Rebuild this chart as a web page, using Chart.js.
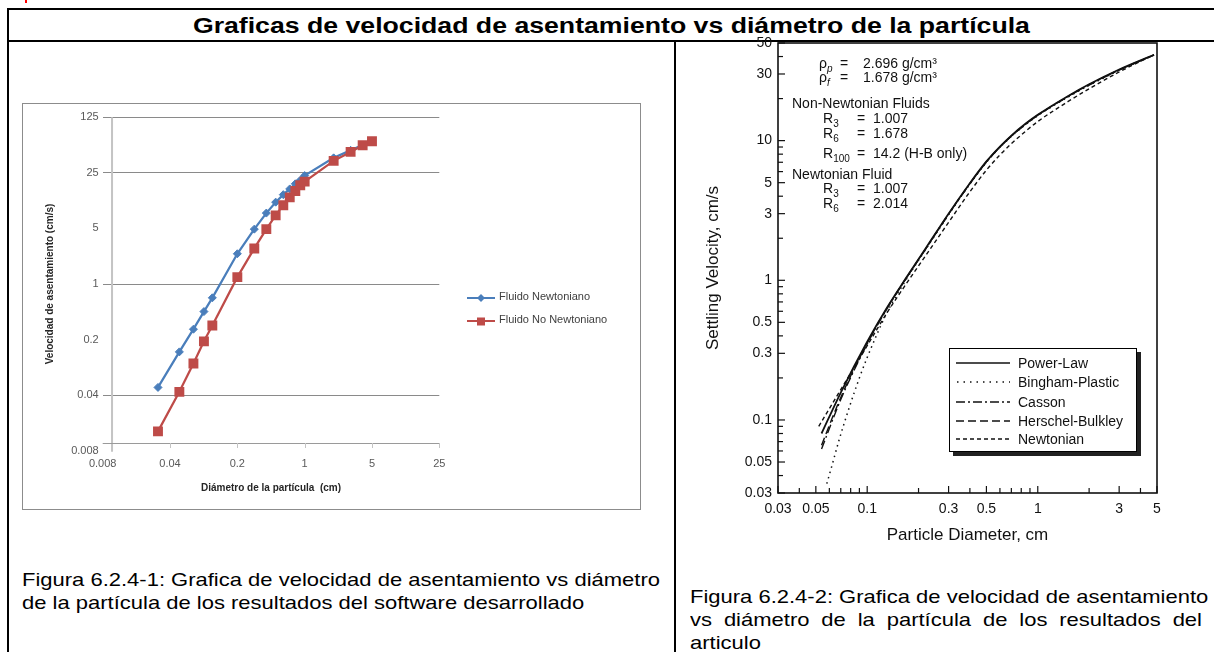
<!DOCTYPE html>
<html lang="es">
<head>
<meta charset="utf-8">
<title>Graficas de velocidad de asentamiento vs diámetro de la partícula</title>
<script src="https://cdn.jsdelivr.net/npm/chart.js@4.4.1/dist/chart.umd.min.js"></script>
<style>
  html, body { margin:0; padding:0; background:#fff; }
  body { position:relative; width:1214px; height:652px; overflow:hidden; font-family:"Liberation Sans", Arial, Helvetica, sans-serif; color:#000; }
  .rule { position:absolute; background:#000; }
  #titulo { position:absolute; left:9px; top:11px; width:1205px; height:30px; line-height:30px; text-align:center; font-weight:bold; font-size:22px; }
  #titulo span { display:inline-block; white-space:nowrap; transform-origin:50% 50%; }
  .cap { position:absolute; font-size:19px; line-height:23px; white-space:nowrap; transform-origin:0 50%; }
  .just { text-align:justify; text-align-last:justify; }
  #boxL { position:absolute; left:22px; top:103px; width:617px; height:405px; border:1px solid #8c8c8c; }
  #cL { position:absolute; left:0; top:0; }
  #cR { position:absolute; left:680px; top:25px; }
  .legL { position:absolute; font-size:11px; line-height:14px; color:#404040; white-space:nowrap; }
  .ann { position:absolute; font-size:14px; line-height:16px; white-space:nowrap; color:#111; }
  .ann sub { font-size:10px; vertical-align:-4px; line-height:0; }
  #legR { position:absolute; left:949px; top:348px; width:186px; height:102px; border:1.5px solid #000; box-shadow:4px 4px 0 #222; background:#fff; }
  .legRow { position:absolute; left:0; height:16px; width:186px; }
  .legRow svg { position:absolute; left:6px; top:3px; }
  .legRow span { position:absolute; left:68px; top:0; font-size:14px; line-height:16px; color:#111; white-space:nowrap; }
</style>
</head>
<body>
<div class="rule" style="left:25px;top:0;width:2px;height:3px;background:#f00"></div>
<div class="rule" style="left:7px;top:8px;width:1207px;height:2px"></div>
<div class="rule" style="left:7px;top:40px;width:1207px;height:2px"></div>
<div class="rule" style="left:7px;top:8px;width:2px;height:644px"></div>
<div class="rule" style="left:674px;top:41px;width:2px;height:611px"></div>

<div id="titulo"><span id="tituloTxt">Graficas de velocidad de asentamiento vs diámetro de la partícula</span></div>

<div id="boxL"><canvas id="cL" width="617" height="405"></canvas></div>

<div class="legL" style="left:467px;top:290px"><svg width="28" height="12" style="vertical-align:middle"><line x1="0" y1="6" x2="28" y2="6" stroke="#4a7ebb" stroke-width="2"/><polygon points="14,2 18,6 14,10 10,6" fill="#4a7ebb"/></svg></div>
<div class="legL" style="left:499px;top:289px">Fluido Newtoniano</div>
<div class="legL" style="left:467px;top:313px"><svg width="28" height="12" style="vertical-align:middle"><line x1="0" y1="6" x2="28" y2="6" stroke="#be4b48" stroke-width="2"/><rect x="10" y="2.5" width="8" height="8" fill="#be4b48"/></svg></div>
<div class="legL" style="left:499px;top:312px">Fluido No Newtoniano</div>

<canvas id="cR" width="530" height="540"></canvas>

<div class="ann" style="left:819px;top:55px">ρ<sub><i>p</i></sub></div>
<div class="ann" style="left:840px;top:55px">=</div>
<div class="ann" style="left:863px;top:55px">2.696 g/cm³</div>
<div class="ann" style="left:819px;top:69px">ρ<sub><i>f</i></sub></div>
<div class="ann" style="left:840px;top:69px">=</div>
<div class="ann" style="left:863px;top:69px">1.678 g/cm³</div>
<div class="ann" style="left:792px;top:95px">Non-Newtonian Fluids</div>
<div class="ann" style="left:823px;top:110px">R<sub>3</sub></div>
<div class="ann" style="left:857px;top:110px">=</div>
<div class="ann" style="left:873px;top:110px">1.007</div>
<div class="ann" style="left:823px;top:125px">R<sub>6</sub></div>
<div class="ann" style="left:857px;top:125px">=</div>
<div class="ann" style="left:873px;top:125px">1.678</div>
<div class="ann" style="left:823px;top:145px">R<sub>100</sub></div>
<div class="ann" style="left:857px;top:145px">=</div>
<div class="ann" style="left:873px;top:145px">14.2 (H-B only)</div>
<div class="ann" style="left:792px;top:166px">Newtonian Fluid</div>
<div class="ann" style="left:823px;top:180px">R<sub>3</sub></div>
<div class="ann" style="left:857px;top:180px">=</div>
<div class="ann" style="left:873px;top:180px">1.007</div>
<div class="ann" style="left:823px;top:195px">R<sub>6</sub></div>
<div class="ann" style="left:857px;top:195px">=</div>
<div class="ann" style="left:873px;top:195px">2.014</div>

<div id="legR">
  <div class="legRow" style="top:6px"><svg width="54" height="10"><line x1="0" y1="5" x2="54" y2="5" stroke="#111" stroke-width="1.6"/></svg><span>Power-Law</span></div>
  <div class="legRow" style="top:25px"><svg width="54" height="10"><line x1="1" y1="5" x2="54" y2="5" stroke="#111" stroke-width="1.5" stroke-dasharray="1.5 5"/></svg><span>Bingham-Plastic</span></div>
  <div class="legRow" style="top:45px"><svg width="54" height="10"><line x1="0" y1="5" x2="54" y2="5" stroke="#111" stroke-width="1.5" stroke-dasharray="9 3 2 3"/></svg><span>Casson</span></div>
  <div class="legRow" style="top:64px"><svg width="54" height="10"><line x1="0" y1="5" x2="54" y2="5" stroke="#111" stroke-width="1.5" stroke-dasharray="8 4"/></svg><span>Herschel-Bulkley</span></div>
  <div class="legRow" style="top:82px"><svg width="54" height="10"><line x1="0" y1="5" x2="54" y2="5" stroke="#111" stroke-width="1.5" stroke-dasharray="4 3"/></svg><span>Newtonian</span></div>
</div>

<div class="cap" id="capL1" style="left:22px;top:568px">Figura 6.2.4-1: Grafica de velocidad de asentamiento vs diámetro</div>
<div class="cap" id="capL2" style="left:22px;top:591px">de la partícula de los resultados del software desarrollado</div>
<div class="cap just" id="capR1" style="left:690px;top:585px">Figura 6.2.4-2: Grafica de velocidad de asentamiento</div>
<div class="cap just" id="capR2" style="left:690px;top:608px">vs diámetro de la partícula de los resultados del</div>
<div class="cap" id="capR3" style="left:690px;top:631px">articulo</div>

<script>
// ---------- Left chart data (software desarrollado) ----------
const diametro = [0.03, 0.05, 0.07, 0.09, 0.11, 0.2, 0.3, 0.4, 0.5, 0.6, 0.7, 0.8, 0.9, 1, 2, 3, 4, 5];
const velNewtoniano = [0.05, 0.14, 0.27, 0.45, 0.67, 2.4, 4.9, 7.8, 10.7, 13.3, 15.7, 18.2, 20.2, 23.1, 38.6, 48, 56, 63];
const velNoNewtoniano = [0.014, 0.044, 0.1, 0.19, 0.3, 1.22, 2.8, 4.9, 7.3, 9.8, 12.3, 14.8, 17.5, 19.4, 35.4, 45.9, 55.7, 62.5];
const ticksEjeX = [0.008, 0.04, 0.2, 1, 5, 25];
const ticksEjeY = [0.008, 0.04, 0.2, 1, 5, 25, 125];
const cruceEjes = 0.01;

// ---------- Right chart data (artículo) ----------
const xMajor = [0.03, 0.05, 0.1, 0.3, 0.5, 1, 3, 5];
const xMinor = [0.04, 0.06, 0.07, 0.08, 0.09, 0.2, 0.4, 0.6, 0.7, 0.8, 0.9, 2, 4];
const yMajor = [0.03, 0.05, 0.1, 0.3, 0.5, 1, 3, 5, 10, 30, 50];
const yMinor = [0.04, 0.06, 0.07, 0.08, 0.09, 0.2, 0.4, 0.6, 0.7, 0.8, 0.9, 2, 4, 6, 7, 8, 9, 20, 40];

const dPowerLaw = [0.054, 0.07, 0.1, 0.13, 0.17, 0.22, 0.3, 0.4, 0.5, 0.6, 0.7, 0.85, 1, 1.5, 2, 3, 4.8];
const vPowerLaw = [0.08, 0.157, 0.363, 0.63, 1.05, 1.69, 3.0, 4.96, 7.1, 9.07, 10.87, 13.25, 15.3, 20.8, 25.3, 32.3, 41.2];
const dBingham = [0.058, 0.063, 0.068, 0.078, 0.09, 0.1, 0.13, 0.17, 0.22, 0.3, 0.4, 0.5, 0.6, 0.7, 0.85, 1, 1.5, 2, 3, 4.8];
const vBingham = [0.035, 0.05, 0.07, 0.12, 0.2, 0.28, 0.58, 1.02, 1.66, 2.95, 4.89, 7.0, 8.95, 10.7, 13.05, 15.1, 20.5, 24.9, 31.9, 41.0];
const dCasson = [0.054, 0.07, 0.1, 0.13, 0.17, 0.22, 0.3, 0.4, 0.5, 0.6, 0.7, 0.85, 1, 1.5, 2, 3, 4.8];
const vCasson = [0.062, 0.14, 0.35, 0.62, 1.04, 1.67, 2.97, 4.91, 7.03, 8.98, 10.76, 13.1, 15.15, 20.6, 25.0, 32.0, 41.0];
const dHerschel = [0.054, 0.07, 0.1, 0.13, 0.17, 0.22, 0.3, 0.4, 0.5, 0.6, 0.7, 0.85, 1, 1.5, 2, 3, 4.8];
const vHerschel = [0.066, 0.145, 0.355, 0.625, 1.045, 1.68, 2.98, 4.93, 7.06, 9.02, 10.8, 13.18, 15.22, 20.7, 25.15, 32.1, 41.1];
const dNewtonian = [0.052, 0.07, 0.1, 0.13, 0.17, 0.22, 0.3, 0.4, 0.5, 0.6, 0.7, 0.85, 1, 1.5, 2, 3, 4.8];
const vNewtonian = [0.09, 0.165, 0.34, 0.58, 0.95, 1.5, 2.6, 4.3, 6.15, 7.9, 9.5, 11.7, 13.7, 19.0, 23.5, 31.0, 41.2];

const pairs = (xs, ys) => xs.map((x, i) => ({ x: x, y: ys[i] }));
const FAM = '"Liberation Sans", Arial, sans-serif';

// ---------- Left chart ----------
const ejesExcel = {
  id: 'ejesExcel',
  beforeDatasetsDraw(chart) {
    const { ctx, chartArea: a, scales: { x, y } } = chart;
    const px = x.getPixelForValue(cruceEjes);
    const py = y.getPixelForValue(cruceEjes);
    ctx.save();
    ctx.strokeStyle = '#c4c4c4';
    ctx.lineWidth = 2;
    ctx.beginPath(); ctx.moveTo(px, a.top); ctx.lineTo(px, a.bottom + 1); ctx.stroke();
    ctx.strokeStyle = '#9a9a9a';
    ctx.lineWidth = 1;
    ctx.beginPath(); ctx.moveTo(a.left, Math.round(py) + 0.5); ctx.lineTo(a.right, Math.round(py) + 0.5); ctx.stroke();
    ctx.strokeStyle = '#c4c4c4';
    x.ticks.forEach(t => {
      if (t.value <= cruceEjes) return;
      const tx = Math.round(x.getPixelForValue(t.value)) + 0.5;
      ctx.beginPath(); ctx.moveTo(tx, py); ctx.lineTo(tx, py + 5); ctx.stroke();
    });
    ctx.restore();
  }
};

new Chart(document.getElementById('cL'), {
  type: 'line',
  data: {
    datasets: [
      { label: 'Fluido Newtoniano', data: pairs(diametro, velNewtoniano), order: 2,
        borderColor: '#4a7ebb', backgroundColor: '#4a7ebb', borderWidth: 2.25,
        pointStyle: 'rectRot', pointRadius: 4, pointBorderWidth: 1,
        pointBackgroundColor: '#4a7ebb', pointBorderColor: '#4a7ebb', tension: 0 },
      { label: 'Fluido No Newtoniano', data: pairs(diametro, velNoNewtoniano), order: 1,
        borderColor: '#be4b48', backgroundColor: '#be4b48', borderWidth: 2.25,
        pointStyle: 'rect', pointRadius: 7, pointBorderWidth: 0,
        pointBackgroundColor: '#be4b48', pointBorderColor: '#be4b48', tension: 0 }
    ]
  },
  options: {
    responsive: false, animation: false, devicePixelRatio: 1,
    layout: { padding: { left: 15, right: 200.7, top: 13.3, bottom: 0 } },
    plugins: { legend: { display: false }, tooltip: { enabled: false } },
    scales: {
      x: {
        type: 'logarithmic', min: 0.008, max: 25,
        afterBuildTicks: s => { s.ticks = ticksEjeX.map(v => ({ value: v })); },
        afterFit: s => { s.height = 58.3; },
        grid: { display: false, drawTicks: false },
        border: { display: false },
        ticks: { autoSkip: false, maxRotation: 0, padding: 7, color: '#595959',
                 font: { family: FAM, size: 11 }, callback: v => String(v) },
        title: { display: true, text: 'Diámetro de la partícula  (cm)', color: '#262626',
                 font: { family: FAM, size: 10, weight: 'bold' }, padding: { top: 0, bottom: 15 } }
      },
      y: {
        type: 'logarithmic', min: 0.008, max: 125,
        afterBuildTicks: s => { s.ticks = ticksEjeY.map(v => ({ value: v })); },
        afterFit: s => { s.width = 64.7; },
        grid: { drawTicks: false, lineWidth: 1,
                color: c => (c.tick && [5, 0.2, 0.008].includes(c.tick.value)) ? 'rgba(0,0,0,0)' : '#8a8a8a' },
        border: { display: false },
        ticks: { autoSkip: false, padding: 4, color: '#595959',
                 font: { family: FAM, size: 11 }, callback: v => String(v) },
        title: { display: true, text: 'Velocidad de asentamiento (cm/s)', color: '#262626',
                 font: { family: FAM, size: 10, weight: 'bold' }, padding: { top: 6, bottom: 0 } }
      }
    }
  },
  plugins: [ejesExcel]
});

// ---------- Right chart ----------
const marco = {
  id: 'marco',
  afterDatasetsDraw(chart) {
    const { ctx, chartArea: a, scales: { x, y } } = chart;
    ctx.save();
    ctx.strokeStyle = '#111';
    ctx.lineWidth = 1.6;
    ctx.strokeRect(a.left, a.top, a.right - a.left, a.bottom - a.top);
    ctx.lineWidth = 1.2;
    x.ticks.forEach(t => {
      const len = xMajor.includes(t.value) ? 7 : 5;
      const px = x.getPixelForValue(t.value);
      ctx.beginPath(); ctx.moveTo(px, a.bottom); ctx.lineTo(px, a.bottom - len); ctx.stroke();
    });
    y.ticks.forEach(t => {
      const len = yMajor.includes(t.value) ? 7 : 5;
      const py = y.getPixelForValue(t.value);
      ctx.beginPath(); ctx.moveTo(a.left, py); ctx.lineTo(a.left + len, py); ctx.stroke();
    });
    ctx.restore();
  }
};

const curva = (label, xs, ys, dash, w) => ({
  label: label, data: pairs(xs, ys), borderColor: '#111', borderWidth: w, borderDash: dash,
  pointRadius: 0, cubicInterpolationMode: 'monotone', fill: false
});

new Chart(document.getElementById('cR'), {
  type: 'line',
  data: {
    datasets: [
      curva('Power-Law', dPowerLaw, vPowerLaw, [], 1.8),
      curva('Bingham-Plastic', dBingham, vBingham, [1.5, 4], 1.5),
      curva('Casson', dCasson, vCasson, [9, 3, 2, 3], 1.4),
      curva('Herschel-Bulkley', dHerschel, vHerschel, [8, 4], 1.4),
      curva('Newtonian', dNewtonian, vNewtonian, [4, 3], 1.4)
    ]
  },
  options: {
    responsive: false, animation: false, devicePixelRatio: 1,
    layout: { padding: { left: 10, right: 53, top: 18, bottom: 0 } },
    plugins: { legend: { display: false }, tooltip: { enabled: false } },
    scales: {
      x: {
        type: 'logarithmic', min: 0.03, max: 5,
        afterBuildTicks: s => { s.ticks = xMajor.concat(xMinor).sort((a, b) => a - b).map(v => ({ value: v })); },
        afterFit: s => { s.height = 72; },
        grid: { display: false, drawTicks: false },
        border: { display: false },
        ticks: { autoSkip: false, maxRotation: 0, padding: 8, color: '#111',
                 font: { family: FAM, size: 14 }, callback: v => xMajor.includes(v) ? String(v) : '' },
        title: { display: true, text: 'Particle Diameter, cm', color: '#111',
                 font: { family: FAM, size: 17 }, padding: { top: 0, bottom: 19 } }
      },
      y: {
        type: 'logarithmic', min: 0.03, max: 50,
        afterBuildTicks: s => { s.ticks = yMajor.concat(yMinor).sort((a, b) => a - b).map(v => ({ value: v })); },
        afterFit: s => { s.width = 88; },
        grid: { display: false, drawTicks: false },
        border: { display: false },
        ticks: { autoSkip: false, padding: 6, color: '#111',
                 font: { family: FAM, size: 14 }, callback: v => yMajor.includes(v) ? String(v) : '' },
        title: { display: true, text: 'Settling Velocity, cm/s', color: '#111',
                 font: { family: FAM, size: 17 }, padding: { top: 13, bottom: 0 } }
      }
    }
  },
  plugins: [marco]
});

// ---------- Fit document text to the page widths ----------
(function () {
  const t = document.getElementById('tituloTxt');
  t.style.transform = 'scaleX(' + (837 / t.getBoundingClientRect().width) + ')';
  const l1 = document.getElementById('capL1');
  const s = 638 / l1.getBoundingClientRect().width;
  ['capL1', 'capL2', 'capR3'].forEach(id => {
    document.getElementById(id).style.transform = 'scaleX(' + s + ')';
  });
  ['capR1', 'capR2'].forEach(id => {
    const el = document.getElementById(id);
    el.style.width = (512 / s) + 'px';
    el.style.transform = 'scaleX(' + s + ')';
  });
})();
</script>
</body>
</html>
